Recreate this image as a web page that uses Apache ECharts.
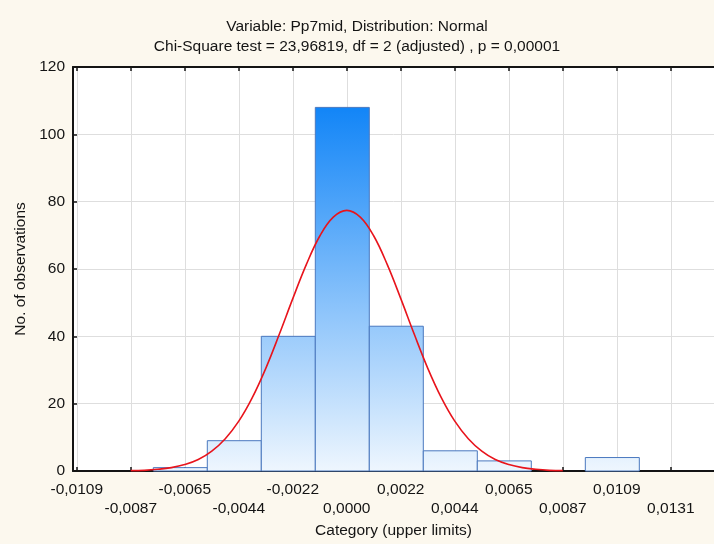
<!DOCTYPE html>
<html>
<head>
<meta charset="utf-8">
<script src="https://cdn.jsdelivr.net/npm/echarts@6/dist/echarts.min.js"></script>
<style>
html,body{margin:0;padding:0;background:#fcf8ee;}
#chart{width:714px;height:544px;}
</style>
</head>
<body>
<div id="chart"></div>
<script>
// Bin positions (in bin units, 0 = bin labelled 0,0000) and their labels
const binPos = [-5, -4, -3, -2, -1, 0, 1, 2, 3, 4, 5, 6];
const binLabels = ['-0,0109', '-0,0087', '-0,0065', '-0,0044', '-0,0022', '0,0000',
                   '0,0022', '0,0044', '0,0065', '0,0087', '0,0109', '0,0131'];
// Observed counts per bin
const counts = [0, 0, 1, 9, 40, 108, 43, 6, 3, 0, 4, 0];
// Expected normal curve
const curveX = [-4, -3.75, -3.5, -3.25, -3, -2.75, -2.5, -2.25, -2, -1.75, -1.5, -1.25, -1, -0.75, -0.5, -0.25, 0,
                0.25, 0.5, 0.75, 1, 1.25, 1.5, 1.75, 2, 2.25, 2.5, 2.75, 3, 3.25, 3.5, 3.75, 4];
const curveY = [0.1, 0.2, 0.5, 1.0, 1.9, 3.4, 5.9, 9.6, 14.8, 21.8, 30.5, 40.6, 51.2, 61.3, 69.8, 75.4, 77.4,
                75.4, 69.8, 61.3, 51.2, 40.6, 30.5, 21.8, 14.8, 9.6, 5.9, 3.4, 1.9, 1.0, 0.5, 0.2, 0.1];
const yTicks = [0, 20, 40, 60, 80, 100, 120];

const titleText = 'Variable: Pp7mid, Distribution: Normal\nChi-Square test = 23,96819, df = 2 (adjusted) , p = 0,00001';
const xName = 'Category (upper limits)';
const yName = 'No. of observations';

const FONT = '"Liberation Sans", Arial, sans-serif';
const FS = 15.5;
const barShift = 0.083;
const xMin = -5.07, xMax = 6.8;
const gridColor = '#dedede';
const axisColor = '#141414';

const chart = echarts.init(document.getElementById('chart'));
const maxCount = Math.max.apply(null, counts);

chart.setOption({
  backgroundColor: '#fcf8ee',
  animation: false,
  textStyle: { fontFamily: FONT },
  title: {
    text: titleText,
    left: 'center',
    top: 12,
    textStyle: { fontFamily: FONT, fontSize: FS, fontWeight: 'normal', color: '#141414', lineHeight: 20 }
  },
  grid: {
    left: 73, right: 0, top: 67, bottom: 67.5,
    show: true, backgroundColor: '#ffffff', borderWidth: 0
  },
  xAxis: [
    {
      type: 'value', min: xMin, max: xMax, position: 'bottom',
      axisLine: { show: true, onZero: false, lineStyle: { color: axisColor, width: 2 } },
      axisTick: { show: true, inside: true, length: 4, customValues: binPos, lineStyle: { color: axisColor, width: 1.5 } },
      axisLabel: {
        customValues: binPos,
        formatter: function (v) {
          const i = binPos.indexOf(Math.round(v));
          if (i < 0) return '';
          return (i % 2 === 0 ? '' : '\n') + binLabels[i];
        },
        fontFamily: FONT, fontSize: FS, lineHeight: 19, margin: 9, color: axisColor
      },
      splitLine: { show: true, lineStyle: { color: gridColor, width: 1 } },
      name: xName, nameLocation: 'middle', nameGap: 52,
      nameTextStyle: { fontFamily: FONT, fontSize: FS, color: axisColor }
    },
    {
      type: 'value', min: xMin, max: xMax, position: 'top',
      axisLine: { show: true, onZero: false, lineStyle: { color: axisColor, width: 2 } },
      axisTick: { show: true, inside: true, length: 4, customValues: binPos, lineStyle: { color: axisColor, width: 1.5 } },
      axisLabel: { show: false },
      splitLine: { show: false }
    }
  ],
  yAxis: {
    type: 'value', min: 0, max: 120, interval: 20,
    axisLine: { show: true, onZero: false, lineStyle: { color: axisColor, width: 2 } },
    axisTick: { show: true, inside: true, length: 4, lineStyle: { color: axisColor, width: 1.5 } },
    axisLabel: { fontFamily: FONT, fontSize: FS, margin: 8, color: axisColor },
    splitLine: { show: true, lineStyle: { color: gridColor, width: 1 } },
    name: yName, nameLocation: 'middle', nameGap: 42, nameRotate: 90,
    nameTextStyle: { fontFamily: FONT, fontSize: FS, color: axisColor }
  },
  series: [
    {
      type: 'custom',
      xAxisIndex: 0, yAxisIndex: 0,
      data: binPos.map(function (p, i) { return [p, counts[i]]; }),
      renderItem: function (params, api) {
        const k = api.value(0), c = api.value(1);
        if (!c) return null;
        const p0 = api.coord([k - 0.5 - barShift, 0]);
        const p1 = api.coord([k + 0.5 - barShift, c]);
        const yBase = api.coord([0, 0])[1];
        const yTop = api.coord([0, maxCount])[1];
        return {
          type: 'rect',
          shape: { x: p0[0], y: p1[1], width: p1[0] - p0[0], height: p0[1] - p1[1] },
          style: {
            fill: new echarts.graphic.LinearGradient(0, yBase, 0, yTop, [
              { offset: 0, color: '#eef6fe' },
              { offset: 1, color: '#1285f7' }
            ], true),
            stroke: '#4a78bf', lineWidth: 1
          }
        };
      },
      z: 2
    },
    {
      type: 'line',
      xAxisIndex: 0, yAxisIndex: 0,
      data: curveX.map(function (x, i) { return [x, curveY[i]]; }),
      showSymbol: false, symbol: 'none',
      smooth: 0.4,
      lineStyle: { color: '#e8141c', width: 1.6 },
      z: 3
    }
  ]
});
</script>
</body>
</html>
